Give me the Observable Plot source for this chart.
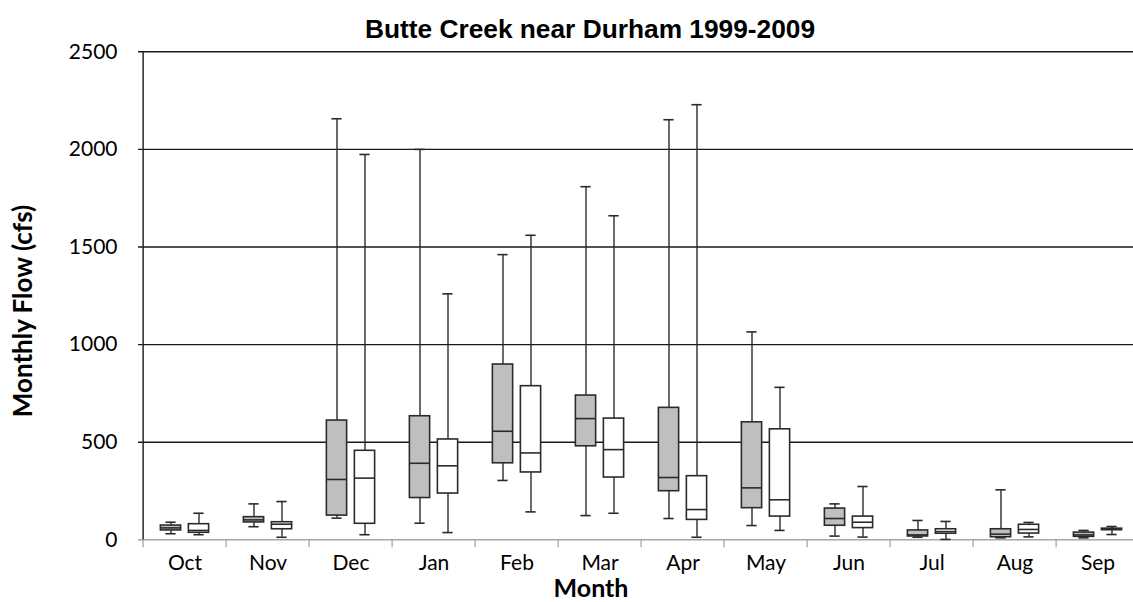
<!DOCTYPE html>
<html>
<head>
<meta charset="utf-8">
<script src="https://cdn.jsdelivr.net/npm/d3@7"></script>
<script src="https://cdn.jsdelivr.net/npm/@observablehq/plot@0.6"></script>
<style>
  html, body { margin: 0; padding: 0; background: #fff; }
  #wrap { position: relative; width: 1133px; height: 602px; overflow: hidden; }
  #titlebar { position: relative; height: 40px; }
  #title { position: absolute; left: 590px; top: 16px; transform: translateX(-50%);
           font: bold 26.3px "Liberation Sans", Arial, sans-serif; line-height: 26px; white-space: nowrap; color: #000; }
  .axtitle { position: absolute; font: bold 26px Lato, sans-serif; line-height: 20px; white-space: nowrap; color: #000; }
  #ytitle { left: 22px; top: 311px; transform: translate(-50%, -50%) rotate(-90deg); }
  #xtitle { left: 591px; top: 587px; transform: translate(-50%, -50%); font-size: 25px; }
</style>
</head>
<body>
<div id="wrap">
  <div id="titlebar"><div id="title">Butte Creek near Durham 1999-2009</div></div>
  <div id="chart"></div>
  <div id="ytitle" class="axtitle">Monthly Flow (cfs)</div>
  <div id="xtitle" class="axtitle">Month</div>
</div>
<script>
const months = ["Oct","Nov","Dec","Jan","Feb","Mar","Apr","May","Jun","Jul","Aug","Sep"];
const yTicks = [0, 500, 1000, 1500, 2000, 2500];
const gridValues = [500, 1000, 1500, 2000, 2500];

// Grey boxes (first series)
const greyMin = [31, 67, 111, 85, 304, 124, 109, 73, 19, 13, 10, 10];
const greyQ1  = [48, 89, 124, 214, 392, 479, 249, 162, 72, 17, 13, 15];
const greyMed = [61, 102, 309, 392, 556, 621, 319, 266, 109, 25, 29, 25];
const greyQ3  = [73, 116, 611, 633, 898, 739, 676, 602, 160, 48, 54, 37];
const greyMax = [90, 184, 2157, 2000, 1461, 1809, 2152, 1065, 184, 99, 256, 48];

// White boxes (second series)
const whiteMin = [26, 13, 26, 37, 143, 136, 13, 48, 14, 2, 15, 27];
const whiteQ1  = [36, 54, 82, 237, 345, 319, 102, 119, 60, 31, 32, 50];
const whiteMed = [48, 80, 316, 379, 445, 462, 155, 205, 90, 42, 53, 53];
const whiteQ3  = [80, 90, 456, 514, 787, 621, 326, 566, 119, 54, 77, 57];
const whiteMax = [136, 196, 1974, 1260, 1560, 1660, 2229, 781, 273, 94, 89, 68];

const rows = (mn, q1, md, q3, mx) => months.map((m, i) => ({month: m, min: mn[i], q1: q1[i], med: md[i], q3: q3[i], max: mx[i]}));
const grey = rows(greyMin, greyQ1, greyMed, greyQ3, greyMax);
const white = rows(whiteMin, whiteQ1, whiteMed, whiteQ3, whiteMax);

const band = (1143 - 138) / months.length;
const boxW = 21, capW = 11;
const boxInset = (band - boxW) / 2, capInset = (band - capW) / 2;
const ink = "#2b2b2b";

function boxMarks(data, dx, fill) {
  return [
    Plot.ruleX(data, {x: "month", y1: "min", y2: "max", dx, stroke: ink, strokeWidth: 1.4}),
    Plot.tickY(data, {x: "month", y: "min", dx, stroke: ink, strokeWidth: 1.6, insetLeft: capInset, insetRight: capInset}),
    Plot.tickY(data, {x: "month", y: "max", dx, stroke: ink, strokeWidth: 1.6, insetLeft: capInset, insetRight: capInset}),
    Plot.barY(data, {x: "month", y1: "q1", y2: "q3", dx, fill, stroke: ink, strokeWidth: 1.6, insetLeft: boxInset, insetRight: boxInset}),
    Plot.tickY(data, {x: "month", y: "med", dx, stroke: ink, strokeWidth: 1.6, insetLeft: boxInset, insetRight: boxInset})
  ];
}

const H = 562, mTop = 11.3, mBottom = 62.7;
const chart = Plot.plot({
  width: 1133,
  height: H,
  marginLeft: 138,
  marginRight: 0,
  marginTop: mTop,
  marginBottom: mBottom,
  style: {fontFamily: "Lato, sans-serif", fontSize: "21px", color: "#000", background: "#fff", overflow: "visible"},
  x: {type: "band", domain: months, range: [138, 1143], padding: 0, label: null, tickSize: 0, tickPadding: 15},
  y: {domain: [0, 2500], ticks: yTicks, tickFormat: d3.format("d"), tickSize: 0, tickPadding: 21, label: null},
  marks: [
    Plot.ruleY(gridValues, {stroke: "#1a1a1a", strokeWidth: 1.4}),
    // category separator ticks below the axis
    Plot.ruleX(months, {dx: -band / 2, stroke: "#a6a6a6", strokeWidth: 1.3, insetTop: H - mTop - mBottom, insetBottom: -8}),
    Plot.ruleY([0], {stroke: "#a6a6a6", strokeWidth: 1.4}),
    // left axis line
    Plot.ruleX(months.slice(0, 1), {dx: -band / 2, stroke: "#1a1a1a", strokeWidth: 1.4}),
    ...boxMarks(grey, -14, "#bfbfbf"),
    ...boxMarks(white, 14, "#ffffff")
  ]
});
document.getElementById("chart").appendChild(chart);
</script>
</body>
</html>
